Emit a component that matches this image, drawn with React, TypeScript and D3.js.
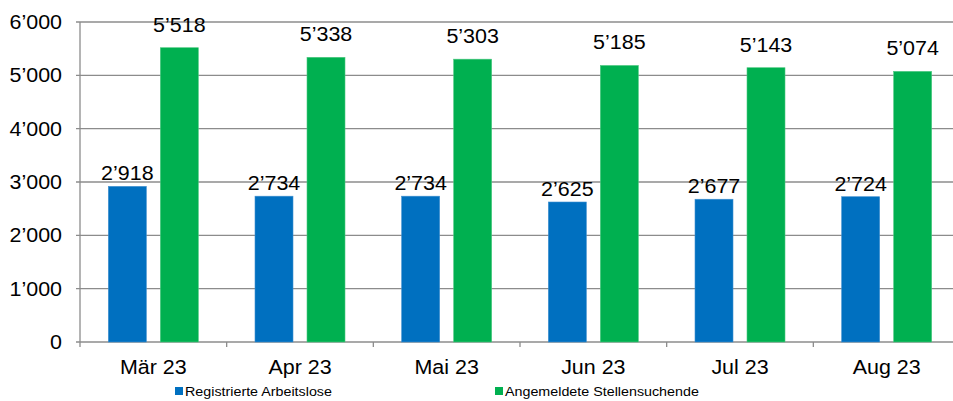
import React from "react";
import * as d3 from "d3";

const categories = ["Mär 23", "Apr 23", "Mai 23", "Jun 23", "Jul 23", "Aug 23"];
const registrierte = [2918, 2734, 2734, 2625, 2677, 2724];
const angemeldete = [5518, 5338, 5303, 5185, 5143, 5074];
const yTicks = [0, 1000, 2000, 3000, 4000, 5000, 6000];
const seriesNames = ["Registrierte Arbeitslose", "Angemeldete Stellensuchende"];
const colors = ["#0070C0", "#00B050"];

const W = 953;
const H = 401;
const left = 80;
const right = 960;
const top = 22;
const bottom = 342;

const fmt = (v: number) => d3.format(",")(v).replace(/,/g, "\u2019");

function T({ x, y, children, anchor = "middle", size = 19.5, sx = 1.1, dy }: any) {
  return (
    <g transform={`translate(${x},${y}) scale(${sx},1)`}>
      <text x={0} y={0} dy={dy} textAnchor={anchor} fontSize={size} fill="#000">
        {children}
      </text>
    </g>
  );
}

export default function App() {
  const x = d3.scaleBand<string>().domain(categories).range([left, right]).padding(0);
  const y = d3.scaleLinear().domain([0, 6000]).range([bottom, top]);
  const bw = x.bandwidth();
  const barW = 38;
  const gap = 14;
  const font = "Liberation Sans, Arial, sans-serif";
  const grid = "#8c8c8c";

  const series = [registrierte, angemeldete];
  const labelOffset = [6, 16];

  return (
    <svg width={W} height={H} style={{ position: "absolute", left: 0, top: 0 }} fontFamily={font}>
      <rect width={W} height={H} fill="#fff" />
      {yTicks.map((t) => (
        <g key={t}>
          <line x1={left - 4} x2={right} y1={y(t)} y2={y(t)} stroke={grid} strokeWidth={1.3} />
          <T x={62} y={y(t)} dy="0.35em" anchor="end">
            {fmt(t)}
          </T>
        </g>
      ))}
      <line x1={left} x2={left} y1={top} y2={bottom + 5} stroke={grid} strokeWidth={1.3} />
      {categories.map((c, i) => (
        <line key={"t" + i} x1={x(c)! + bw} x2={x(c)! + bw} y1={bottom} y2={bottom + 5} stroke={grid} strokeWidth={1.3} />
      ))}
      {categories.map((c, i) => {
        const cx = x(c)! + bw / 2;
        return (
          <g key={c}>
            {series.map((s, si) => {
              const bx = si === 0 ? cx - gap / 2 - barW : cx + gap / 2;
              return (
                <g key={si}>
                  <rect
                    x={bx}
                    y={y(s[i])}
                    width={barW}
                    height={bottom - y(s[i])}
                    fill={colors[si]}
                    stroke={si === 0 ? "#3f8fd0" : "#4cc980"}
                    strokeWidth={0.6}
                  />
                  <T x={bx + barW / 2} y={y(s[i]) - labelOffset[si]}>
                    {fmt(s[i])}
                  </T>
                </g>
              );
            })}
            <T x={cx} y={374}>
              {c}
            </T>
          </g>
        );
      })}
      {seriesNames.map((n, i) => {
        const lx = i === 0 ? 175 : 495;
        return (
          <g key={n}>
            <rect x={lx} y={387} width={8} height={8} fill={colors[i]} />
            <T x={lx + 10} y={391} dy="0.35em" anchor="start" size={13} sx={1.1}>
              {n}
            </T>
          </g>
        );
      })}
    </svg>
  );
}
